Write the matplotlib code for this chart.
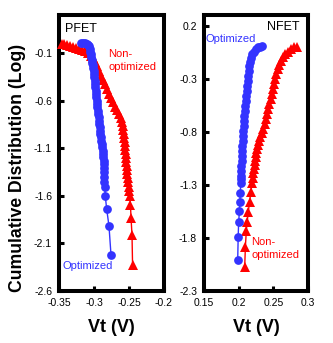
import matplotlib
matplotlib.use("Agg")
import matplotlib.pyplot as plt

plt.rcParams['font.family'] = ['Liberation Sans', 'DejaVu Sans']

# ---------------- data ----------------
# PFET, optimized (blue circles)
pfet_opt_vt = [-0.318, -0.3155, -0.313, -0.3105, -0.3085, -0.307, -0.306, -0.3053,
               -0.3046, -0.304, -0.3033, -0.3025, -0.3017, -0.301, -0.3004, -0.2999,
               -0.2994, -0.2989, -0.2985, -0.298, -0.2975, -0.297, -0.2965, -0.296,
               -0.2955, -0.295, -0.2945, -0.294, -0.2935, -0.293, -0.2925, -0.292,
               -0.2914, -0.2908, -0.2902, -0.2896, -0.289, -0.2884, -0.2878, -0.2873,
               -0.2868, -0.2864, -0.286, -0.2857, -0.2857, -0.2855, -0.2853, -0.2847,
               -0.2839, -0.2819, -0.2786, -0.2757]
pfet_opt_y = [0.008, 0.007, 0.005, 0.0, -0.01, -0.03, -0.055, -0.085,
              -0.11, -0.14, -0.17, -0.20, -0.23, -0.26, -0.29, -0.32,
              -0.355, -0.39, -0.425, -0.46, -0.495, -0.53, -0.565, -0.60,
              -0.635, -0.67, -0.705, -0.74, -0.775, -0.81, -0.845, -0.88,
              -0.915, -0.95, -0.985, -1.02, -1.055, -1.09, -1.125, -1.16,
              -1.195, -1.23, -1.27, -1.31, -1.35, -1.40, -1.455, -1.507,
              -1.602, -1.738, -1.917, -2.222]

# PFET, non-optimized (red triangles)
pfet_non_vt = [-0.3464, -0.3429, -0.3386, -0.3343, -0.33, -0.3257, -0.3214, -0.3171,
               -0.3129, -0.3086, -0.3043, -0.3014, -0.2986, -0.2957, -0.2929, -0.29,
               -0.2871, -0.2843, -0.2814, -0.2786, -0.2757, -0.2729, -0.27, -0.2671,
               -0.2643, -0.2614, -0.26, -0.2589, -0.258, -0.2573, -0.2567, -0.2561,
               -0.2556, -0.255, -0.2546, -0.2541, -0.2537, -0.2533, -0.2529, -0.2524,
               -0.2517, -0.2511, -0.2504, -0.2496, -0.2486, -0.2479, -0.2471, -0.2457,
               -0.2449]
pfet_non_y = [0.0, -0.008, -0.017, -0.026, -0.036, -0.047, -0.057, -0.070,
              -0.083, -0.102, -0.131, -0.157, -0.194, -0.241, -0.288, -0.336,
              -0.383, -0.430, -0.478, -0.530, -0.577, -0.619, -0.667, -0.703,
              -0.745, -0.787, -0.824, -0.866, -0.908, -0.950, -0.992, -1.034,
              -1.076, -1.118, -1.160, -1.203, -1.245, -1.287, -1.329, -1.371,
              -1.413, -1.455, -1.502, -1.549, -1.602, -1.696, -1.833, -2.012,
              -2.327]

# NFET, optimized (blue circles)
nfet_opt_vt = [0.2332, 0.2308, 0.2279, 0.225, 0.2221, 0.2199, 0.2182, 0.2168,
               0.2156, 0.2146, 0.2137, 0.213, 0.2123, 0.2116, 0.2109, 0.2103,
               0.2096, 0.209, 0.2084, 0.2078, 0.2072, 0.2067, 0.2062, 0.2058,
               0.2054, 0.2049, 0.2047, 0.2042, 0.2038, 0.2035, 0.2032, 0.2031,
               0.2031, 0.2023, 0.2016, 0.2012, 0.2, 0.1993, 0.1986]
nfet_opt_y = [0.008, 0.003, -0.006, -0.020, -0.044, -0.072, -0.105, -0.143,
              -0.185, -0.228, -0.275, -0.322, -0.369, -0.416, -0.463, -0.510,
              -0.557, -0.604, -0.651, -0.699, -0.746, -0.793, -0.840, -0.887,
              -0.934, -0.981, -1.028, -1.075, -1.122, -1.170, -1.217, -1.245,
              -1.283, -1.377, -1.462, -1.542, -1.647, -1.791, -2.008]

# NFET, non-optimized (red triangles)
nfet_non_vt = [0.2837, 0.2798, 0.2755, 0.2716, 0.2675, 0.2639, 0.2610, 0.2586,
               0.2564, 0.2545, 0.2528, 0.2512, 0.2495, 0.2478, 0.2460, 0.2443,
               0.2427, 0.2408, 0.2391, 0.2374, 0.2354, 0.2333, 0.2310, 0.2290,
               0.2273, 0.2261, 0.2253, 0.2246, 0.2238, 0.2230, 0.2221, 0.2211,
               0.2201, 0.2192, 0.2175, 0.2158, 0.2139, 0.2123, 0.2110, 0.2097,
               0.2087]
nfet_non_y = [0.001, -0.006, -0.025, -0.046, -0.072, -0.100, -0.133, -0.171,
              -0.213, -0.256, -0.303, -0.350, -0.397, -0.444, -0.491, -0.538,
              -0.585, -0.633, -0.680, -0.727, -0.774, -0.812, -0.849, -0.887,
              -0.925, -0.962, -1.000, -1.038, -1.075, -1.113, -1.151, -1.191,
              -1.235, -1.287, -1.372, -1.459, -1.553, -1.647, -1.735, -1.883,
              -2.071]

pfet_xticks = [-0.35, -0.3, -0.25, -0.2]
pfet_xticklabels = ["-0.35", "-0.3", "-0.25", "-0.2"]
pfet_yticks = [-0.1, -0.6, -1.1, -1.6, -2.1, -2.6]
pfet_yticklabels = ["-0.1", "-0.6", "-1.1", "-1.6", "-2.1", "-2.6"]
nfet_xticks = [0.15, 0.2, 0.25, 0.3]
nfet_xticklabels = ["0.15", "0.2", "0.25", "0.3"]
nfet_yticks = [0.2, -0.3, -0.8, -1.3, -1.8, -2.3]
nfet_yticklabels = ["0.2", "-0.3", "-0.8", "-1.3", "-1.8", "-2.3"]

# ---------------- styling ----------------
BLUE = '#3333FF'
RED = '#FF0000'
W, H = 333, 343
fig = plt.figure(figsize=(W / 100, H / 100), dpi=100)

axL = fig.add_axes([59 / W, 1 - 291 / H, 105 / W, 276 / H])
axR = fig.add_axes([204 / W, 1 - 291 / H, 104 / W, 276 / H])


def style(ax, xlim, ylim, xt, xtl, yt, ytl):
    ax.set_xlim(*xlim)
    ax.set_ylim(*ylim)
    ax.set_xticks(xt)
    ax.set_xticklabels(xtl)
    ax.set_yticks(yt)
    ax.set_yticklabels(ytl)
    for s in ax.spines.values():
        s.set_linewidth(2.9)
        s.set_color('black')
    ax.tick_params(direction='in', length=3.5, width=2.2, labelsize=7.5,
                   colors='black', pad=5)
    ax.patch.set_alpha(0)


style(axL, (-0.35, -0.2), (-2.6, 0.3), pfet_xticks, pfet_xticklabels,
      pfet_yticks, pfet_yticklabels)
style(axR, (0.15, 0.3), (-2.3, 0.3), nfet_xticks, nfet_xticklabels,
      nfet_yticks, nfet_yticklabels)

kw = dict(linewidth=1.0, markeredgewidth=0, clip_on=False)
TRI, CIR = 7.0, 6.3
axL.plot(pfet_non_vt, pfet_non_y, marker='^', markersize=TRI, color=RED, zorder=3, **kw)
axL.plot(pfet_opt_vt, pfet_opt_y, marker='o', markersize=CIR, color=BLUE, zorder=4, **kw)
axR.plot(nfet_non_vt, nfet_non_y, marker='^', markersize=TRI, color=RED, zorder=3, **kw)
axR.plot(nfet_opt_vt, nfet_opt_y, marker='o', markersize=CIR, color=BLUE, zorder=4, **kw)

# annotations
tk = dict(transform=axL.transAxes, va='baseline', ha='left')
axL.text(0.057, 0.938, "PFET", fontsize=9, color='black', **tk)
axL.text(0.467, 0.848, "Non-", fontsize=8, color=RED, **tk)
axL.text(0.467, 0.8025, "optimized", fontsize=8, color=RED, **tk)
axL.text(0.038, 0.0797, "Optimized", fontsize=8, color=BLUE, **tk)

tr = dict(transform=axR.transAxes, va='baseline', ha='left')
axR.text(0.603, 0.9457, "NFET", fontsize=9, color='black', **tr)
axR.text(0.016, 0.901, "Optimized", fontsize=8, color=BLUE, **tr)
axR.text(0.452, 0.1667, "Non-", fontsize=8, color=RED, **tr)
axR.text(0.452, 0.1196, "optimized", fontsize=8, color=RED, **tr)

fig.text(18 / W, 1 - 168 / H, "Cumulative Distribution (Log)", rotation=90,
         fontsize=12.7, fontweight='bold', ha='center', va='center')
fig.text(111.5 / W, 1 - 327 / H, "Vt (V)", fontsize=13, fontweight='bold',
         ha='center', va='center')
fig.text(256 / W, 1 - 327 / H, "Vt (V)", fontsize=13, fontweight='bold',
         ha='center', va='center')

fig.savefig("out.png", dpi=100)
